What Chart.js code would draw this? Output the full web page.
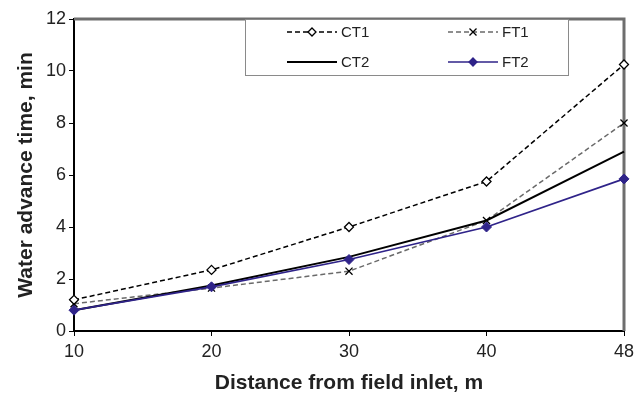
<!DOCTYPE html>
<html>
<head>
<meta charset="utf-8">
<script src="https://cdn.jsdelivr.net/npm/chart.js@4/dist/chart.umd.min.js"></script>
<style>
  html, body { margin: 0; padding: 0; background: #fff; }
  #wrap { width: 644px; height: 396px; }
</style>
</head>
<body>
<div id="wrap"><canvas id="c"></canvas></div>
<script>
// distâncias (m) e tempos de avanço (min)
const distancias = ['10', '20', '30', '40', '48'];
const ct1 = [1.2, 2.35, 4.0, 5.75, 10.25];
const ft1 = [1.05, 1.65, 2.3, 4.25, 8.0];
const ct2 = [0.8, 1.75, 2.85, 4.25, 6.9];
const ft2 = [0.8, 1.7, 2.75, 4.0, 5.85];
const yTicks = [0, 2, 4, 6, 8, 10, 12];

const FONTE = 'Arial, "Liberation Sans", sans-serif';
const AZUL = '#2f2389';

// moldura cinza (topo e direita), como no original
const moldura = {
    id: 'moldura',
    beforeDatasetsDraw(chart) {
        const { ctx, chartArea: a } = chart;
        ctx.save();
        ctx.strokeStyle = '#6e6e6e';
        ctx.lineWidth = 3;
        ctx.beginPath();
        ctx.moveTo(a.left, a.top);
        ctx.lineTo(a.right, a.top);
        ctx.lineTo(a.right, a.bottom);
        ctx.stroke();
        ctx.restore();
    },
};

function marcador(ctx, tipo, x, y, cor, preenchido) {
    ctx.save();
    ctx.strokeStyle = cor;
    ctx.lineWidth = 1.3;
    ctx.setLineDash([]);
    if (tipo === 'rectRot') {
        const r = 4;
        ctx.beginPath();
        ctx.moveTo(x, y - r);
        ctx.lineTo(x + r, y);
        ctx.lineTo(x, y + r);
        ctx.lineTo(x - r, y);
        ctx.closePath();
        ctx.fillStyle = preenchido ? cor : '#fff';
        ctx.fill();
        ctx.stroke();
    } else if (tipo === 'crossRot') {
        const r = 3.5;
        ctx.beginPath();
        ctx.moveTo(x - r, y - r); ctx.lineTo(x + r, y + r);
        ctx.moveTo(x + r, y - r); ctx.lineTo(x - r, y + r);
        ctx.stroke();
    }
    ctx.restore();
}

// legenda em caixa, duas colunas
const legenda = {
    id: 'legenda',
    afterDraw(chart) {
        const { ctx } = chart;
        ctx.save();
        ctx.fillStyle = '#fff';
        ctx.fillRect(245, 19, 324, 57);
        ctx.strokeStyle = '#8a8a8a';
        ctx.lineWidth = 1;
        ctx.strokeRect(245.5, 19.5, 323, 56);
        const pos = [[287, 32], [448, 32], [287, 62], [448, 62]];
        chart.data.datasets.forEach((ds, i) => {
            const [x, y] = pos[i];
            ctx.save();
            ctx.strokeStyle = ds.borderColor;
            ctx.lineWidth = ds.borderWidth;
            ctx.setLineDash(ds.borderDash || []);
            ctx.beginPath();
            ctx.moveTo(x, y);
            ctx.lineTo(x + 50, y);
            ctx.stroke();
            ctx.restore();
            if (ds.pointRadius > 0) {
                marcador(ctx, ds.pointStyle, x + 25, y, ds.pointBorderColor, ds.pointBackgroundColor !== '#ffffff');
            }
            ctx.fillStyle = '#222';
            ctx.font = '15px ' + FONTE;
            ctx.textBaseline = 'middle';
            ctx.fillText(ds.label, x + 54, y + 1);
        });
        ctx.restore();
    },
};

new Chart(document.getElementById('c'), {
    type: 'line',
    data: {
        labels: distancias,
        datasets: [
            {
                label: 'CT1', data: ct1, order: 1,
                borderColor: '#000', borderWidth: 1.5, borderDash: [5, 3],
                pointStyle: 'rectRot', pointRadius: 4.5, pointBorderWidth: 1.3,
                pointBackgroundColor: '#ffffff', pointBorderColor: '#000',
            },
            {
                label: 'FT1', data: ft1, order: 3,
                borderColor: '#6a6a6a', borderWidth: 1.5, borderDash: [5, 3],
                pointStyle: 'crossRot', pointRadius: 5, pointBorderWidth: 1.3,
                pointBackgroundColor: '#000', pointBorderColor: '#000',
            },
            {
                label: 'CT2', data: ct2, order: 2,
                borderColor: '#000', borderWidth: 2, pointRadius: 0,
                pointStyle: 'circle', pointBackgroundColor: '#000', pointBorderColor: '#000',
            },
            {
                label: 'FT2', data: ft2, order: 0,
                borderColor: AZUL, borderWidth: 1.7,
                pointStyle: 'rectRot', pointRadius: 5, pointBorderWidth: 1,
                pointBackgroundColor: AZUL, pointBorderColor: AZUL,
            },
        ],
    },
    options: {
        responsive: true,
        maintainAspectRatio: false,
        animation: false,
        layout: { padding: { top: 19, right: 20, left: 0, bottom: 0 } },
        plugins: { legend: { display: false }, tooltip: { enabled: false } },
        elements: { line: { tension: 0 } },
        scales: {
            x: {
                type: 'category',
                offset: false,
                afterFit: (s) => { s.height = 65; },
                grid: { drawOnChartArea: false, drawTicks: true, tickLength: 5, tickColor: '#000' },
                border: { color: '#000', width: 2 },
                ticks: { color: '#222', font: { family: FONTE, size: 18 }, padding: 5, maxRotation: 0 },
                title: {
                    display: true, text: 'Distance from field inlet, m', color: '#222',
                    font: { family: FONTE, size: 21, weight: 'bold' }, padding: { top: 0, bottom: 0 },
                },
            },
            y: {
                min: 0, max: 12,
                afterFit: (s) => { s.width = 74; },
                afterBuildTicks: (s) => { s.ticks = yTicks.map((v) => ({ value: v })); },
                grid: { drawOnChartArea: false, drawTicks: true, tickLength: 5, tickColor: '#000' },
                border: { color: '#000', width: 2 },
                ticks: { color: '#222', font: { family: FONTE, size: 18 }, padding: 3 },
                title: {
                    display: true, text: 'Water advance time, min', color: '#222',
                    font: { family: FONTE, size: 21, weight: 'bold' }, padding: { top: 14, bottom: 0 },
                },
            },
        },
    },
    plugins: [moldura, legenda],
});
</script>
</body>
</html>
